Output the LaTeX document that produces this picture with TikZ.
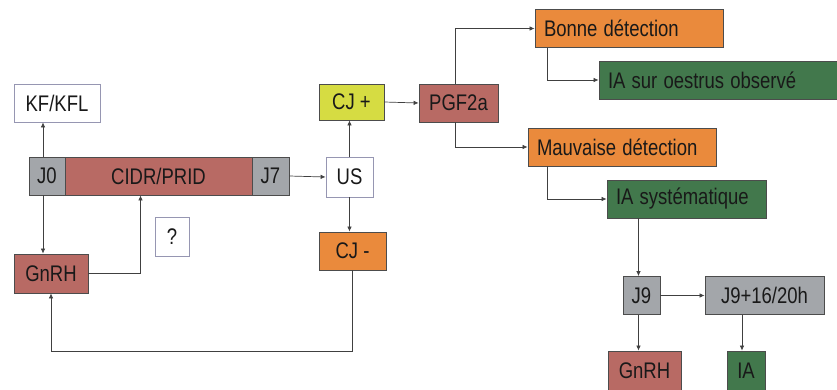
\documentclass[tikz,border=0pt]{standalone}
\usepackage{fontspec}
\setmainfont{Liberation Sans}
\usetikzlibrary{arrows.meta}
\definecolor{boxgray}{RGB}{163,166,170}
\definecolor{boxred}{RGB}{184,106,100}
\definecolor{boxorange}{RGB}{234,138,60}
\definecolor{boxgreen}{RGB}{66,120,76}
\definecolor{boxyellow}{RGB}{214,220,66}
\definecolor{edgewhite}{RGB}{150,150,178}
\newcommand{\tall}[1]{\scalebox{1}[1.22]{#1}}
\tikzset{
  box/.style={draw=black!70, line width=0.8pt, minimum height=38pt, inner sep=0pt,
    text=black!90, font=\fontsize{18.5}{20}\selectfont},
  wbox/.style={box, draw=edgewhite, fill=white},
  gbox/.style={box, fill=boxgray},
  rbox/.style={box, fill=boxred},
  obox/.style={box, fill=boxorange},
  vbox/.style={box, fill=boxgreen},
  ybox/.style={box, fill=boxyellow},
  link/.style={draw=black!75, line width=0.7pt, -{Latex[length=5pt,width=4.5pt]}}
}
\begin{document}
\begin{tikzpicture}[x=1pt, y=-1pt]
\useasboundingbox (0,0) rectangle (837,389);
\node[wbox, minimum width=86pt] (kf) at (57,103) {\tall{KF/KFL}};
\node[gbox, minimum width=36pt] (j0) at (47,176) {\tall{J0}};
\node[rbox, minimum width=187pt] (cidr) at (158.5,176) {\tall{CIDR/PRID}};
\node[gbox, minimum width=37pt] (j7) at (270.5,176) {\tall{J7}};
\node[wbox, minimum width=47pt, minimum height=40pt] (us) at (349.5,177) {\tall{US}};
\node[ybox, minimum width=65pt, minimum height=36pt] (cjp) at (351.5,102) {\tall{CJ +}};
\node[obox, minimum width=67pt] (cjm) at (352.5,251) {\tall{CJ -}};
\node[wbox, minimum width=34pt, minimum height=39pt] (q) at (172,236.5) {\tall{?}};
\node[rbox, minimum width=74pt, minimum height=39pt] (gnrhA) at (51,273.5) {\tall{GnRH}};
\node[rbox, minimum width=79pt] (pgf) at (458.5,103) {\tall{PGF2a}};
\node[obox, text width=170pt, inner xsep=9pt, align=left] (bonne) at (629,28.5) {\tall{Bonne détection}};
\node[vbox, text width=232pt, inner xsep=9pt, align=left] (iasur) at (724,80) {\tall{IA sur oestrus observé}};
\node[obox, text width=170pt, inner xsep=9pt, align=left] (mauv) at (622,147) {\tall{Mauvaise détection}};
\node[vbox, text width=141pt, inner xsep=9pt, align=left] (iasys) at (686.5,199) {\tall{IA systématique}};
\node[gbox, minimum width=37pt] (j9) at (641.5,295.5) {\tall{J9}};
\node[gbox, minimum width=119pt] (j916) at (764.5,295.5) {\tall{J9+16/20h}};
\node[rbox, minimum width=73pt, minimum height=40pt] (gnrhB) at (644.5,371) {\tall{GnRH}};
\node[vbox, minimum width=38pt, minimum height=40pt] (ia) at (746,371) {\tall{IA}};
\begin{scope}[link]
\draw ([xshift=-4pt]j0.north) -- ([xshift=-4pt]j0.north |- kf.south);
\draw ([xshift=-4pt]j0.south) -- ([xshift=-4pt]j0.south |- gnrhA.north);
\draw (gnrhA.east) -| ([xshift=-18pt]cidr.south);
\draw (j7.east) -- (us.west);
\draw (us.north) -- (us.north |- cjp.south);
\draw (us.south) -- (us.south |- cjm.north);
\draw (cjm.south) -- ++(0,81) -| (gnrhA.south);
\draw (cjp.east) -- (pgf.west);
\draw ([xshift=-3pt]pgf.north) |- (bonne.west);
\draw ([xshift=-3pt]pgf.south) |- (mauv.west);
\draw ([xshift=13pt]bonne.south west) |- (iasur.west);
\draw ([xshift=20pt]mauv.south west) |- (iasys.west);
\draw ([xshift=-3pt]j9.north |- iasys.south) -- ([xshift=-3pt]j9.north);
\draw ([xshift=-3pt]j9.south) -- ([xshift=-3pt]j9.south |- gnrhB.north);
\draw (j9.east) -- (j916.west);
\draw ([xshift=-4pt]ia.north |- j916.south) -- ([xshift=-4pt]ia.north);
\end{scope}
\end{tikzpicture}
\end{document}
